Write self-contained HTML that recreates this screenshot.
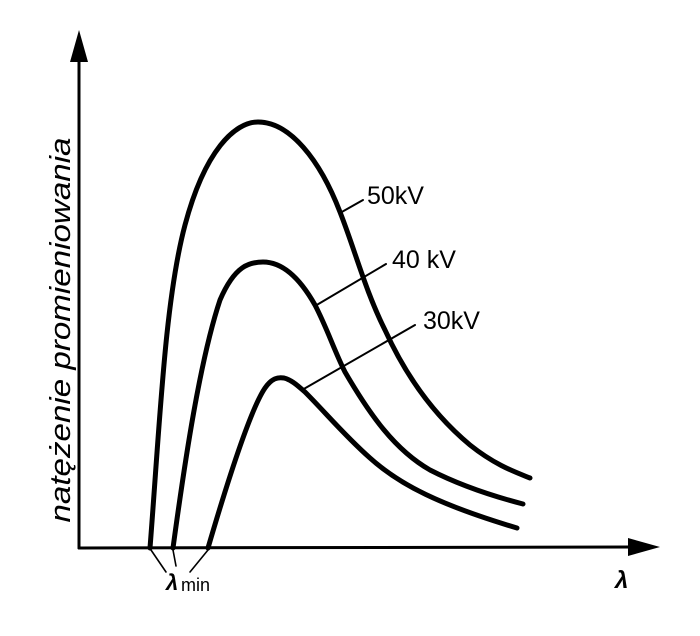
<!DOCTYPE html>
<html><head><style>
html,body{margin:0;padding:0;background:#fff;}
svg{display:block;}
text{font-family:"Liberation Sans",sans-serif;fill:#000;}
</style></head><body>
<svg width="700" height="636" viewBox="0 0 700 636" xmlns="http://www.w3.org/2000/svg">
<g stroke="#000" fill="none" stroke-linecap="round" stroke-linejoin="round">
<line x1="79" y1="548" x2="79" y2="58" stroke-width="3"/>
<line x1="79" y1="548" x2="635" y2="547" stroke-width="3"/>
<path d="M150,548 C160,420 165,300 185,225 C205,150 235,122 258,122 C290,122 320,160 340,212 C355,250 365,290 385,330 C410,385 440,420 470,445 C495,465 515,472 530,478" stroke-width="5"/>
<path d="M173,548 C185,460 200,360 220,300 C235,265 250,262 263,262 C285,262 302,282 315,305 C327,328 334,350 345,372 C370,415 395,450 430,470 C465,488 500,498 523,504" stroke-width="5"/>
<path d="M208,548 C225,490 250,410 265,388 C272,378 278,377 284,378 C292,380 298,386 305,392 C325,412 345,436 370,458 C400,485 440,505 517,528" stroke-width="5"/>
<line x1="340" y1="213" x2="363" y2="200" stroke-width="2"/>
<line x1="315" y1="306" x2="386" y2="264" stroke-width="2"/>
<line x1="302" y1="390" x2="415" y2="325" stroke-width="2"/>
<line x1="151" y1="550" x2="166" y2="572" stroke-width="1.6"/>
<line x1="173" y1="550" x2="176" y2="566" stroke-width="1.6"/>
<line x1="208" y1="550" x2="190" y2="572" stroke-width="1.6"/>
</g>
<polygon points="79,30 70,62 88,62" fill="#000"/>
<polygon points="660,547 628,538 628,556" fill="#000"/>
<text x="367" y="204" font-size="25">50kV</text>
<text x="392" y="268" font-size="25">40 kV</text>
<text x="423" y="329" font-size="25">30kV</text>
<text x="166" y="590" font-size="22" font-style="italic" font-weight="bold">λ</text>
<text x="181" y="591" font-size="18">min</text>
<text x="615" y="588" font-size="24" font-style="italic" font-weight="bold">λ</text>
<text transform="translate(70,330) rotate(-90)" text-anchor="middle" font-size="29" font-style="italic" textLength="385" lengthAdjust="spacingAndGlyphs">natężenie promieniowania</text>
</svg>
</body></html>
